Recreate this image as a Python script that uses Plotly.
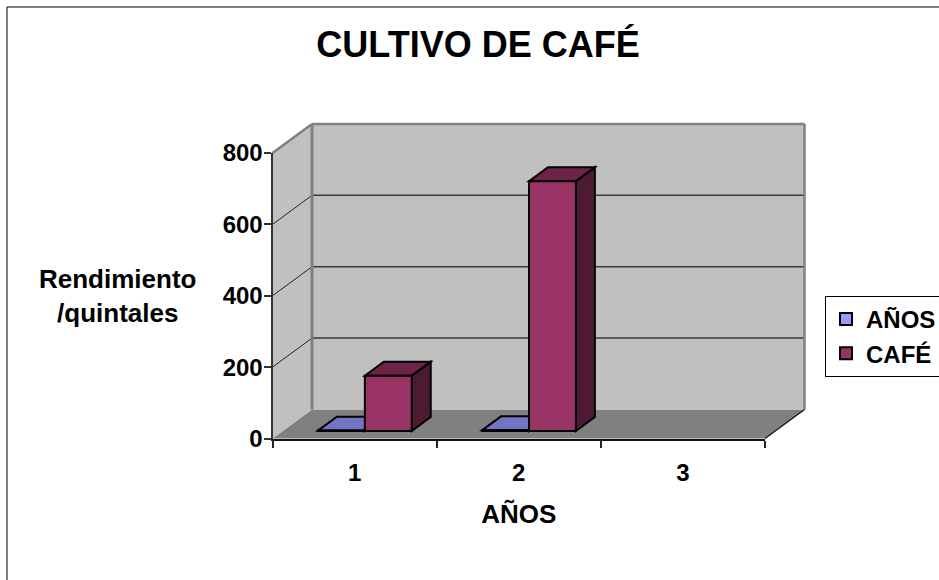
import plotly.graph_objects as go

# ---------------- data ----------------
categories = ["1", "2", "3"]
anos_values = [1, 2, None]
cafe_values = [155, 700, None]
series_names = ["AÑOS", "CAFÉ"]
y_ticks = [0, 200, 400, 600, 800]
title_text = "CULTIVO DE CAFÉ"
x_title = "AÑOS"
y_title = "Rendimiento<br>/quintales"

# ---------------- styling / layout constants ----------------
FONT = "Arial, 'Liberation Sans', sans-serif"
W, H = 939, 580
FX0, FX1 = 272.5, 765.0       # pixel x of the front plane (left/right)
FY0, FY1 = 438.5, 153.0       # pixel y of value 0 and of the top value
YMAX = y_ticks[-1]
NCAT = len(categories)
cat_px = (FX1 - FX0) / NCAT
val_px = (FY0 - FY1) / YMAX
DX = 39.5 / cat_px            # depth shift in category units
DY = 29.0 / val_px            # depth shift in value units
x_lo = 0.5 - FX0 / cat_px
x_hi = 0.5 + (W - FX0) / cat_px
y_lo = -(H - FY0) / val_px
y_hi = FY0 / val_px

BAR_W = 1.0 / (2 + 1.5)       # gap width 150 %
F0, F1 = 0.26, 0.74           # depth of bar front / back faces
colors = [
    dict(front="#9999FF", top="#7474C4", side="#4D4D80"),
    dict(front="#993366", top="#6E2449", side="#4C1A33"),
]


def proj(x, y, f):
    return (x + f * DX, y + f * DY)


def poly(points, fill, line_color="rgba(0,0,0,0)", line_width=0):
    path = "M " + " L ".join(f"{px:.5f},{py:.5f}" for px, py in points) + " Z"
    return dict(type="path", xref="x", yref="y", path=path, fillcolor=fill,
                line=dict(color=line_color, width=line_width), layer="below")


def seg(p, q, color, width):
    return dict(type="line", xref="x", yref="y", x0=p[0], y0=p[1], x1=q[0], y1=q[1],
                line=dict(color=color, width=width), layer="below")


shapes = []
xa, xb = 0.5, NCAT + 0.5
# floor
shapes.append(poly([proj(xa, 0, 0), proj(xb, 0, 0), proj(xb, 0, 1), proj(xa, 0, 1)], "#808080"))
# left side wall
shapes.append(poly([proj(xa, 0, 0), proj(xa, YMAX, 0), proj(xa, YMAX, 1), proj(xa, 0, 1)], "#C0C0C0"))
# back wall
shapes.append(poly([proj(xa, 0, 1), proj(xb, 0, 1), proj(xb, YMAX, 1), proj(xa, YMAX, 1)], "#C0C0C0"))
# gridlines
for v in y_ticks[1:-1]:
    shapes.append(seg(proj(xa, v, 0), proj(xa, v, 1), "#222222", 1))
    shapes.append(seg(proj(xa, v, 1), proj(xb, v, 1), "#3A3A3A", 1.5))
# wall edges
shapes.append(seg(proj(xa, YMAX, 0), proj(xa, YMAX, 1), "#808080", 2.5))
shapes.append(seg(proj(xa, 0, 1), proj(xa, YMAX, 1), "#808080", 3))
shapes.append(seg(proj(xa, YMAX, 1), proj(xb, YMAX, 1), "#808080", 2.5))
shapes.append(seg(proj(xb, YMAX, 1), proj(xb, 0, 1), "#808080", 2.5))
# floor right edge
shapes.append(seg(proj(xb, 0, 0), proj(xb, 0, 1), "#111111", 1.3))

fig = go.Figure()

for s, (name, vals) in enumerate(zip(series_names, [anos_values, cafe_values])):
    bx, by, bb = [], [], []
    for i, v in enumerate(vals):
        if v is None:
            continue
        c = i + 1
        xl = c - BAR_W + s * BAR_W
        xr = xl + BAR_W
        shapes.append(poly([proj(xr, 0, F0), proj(xr, 0, F1), proj(xr, v, F1), proj(xr, v, F0)],
                           colors[s]["side"], "#000000", 2))
        shapes.append(poly([proj(xl, v, F0), proj(xr, v, F0), proj(xr, v, F1), proj(xl, v, F1)],
                           colors[s]["top"], "#000000", 2))
        bx.append((xl + xr) / 2 + F0 * DX)
        by.append(v)
        bb.append(F0 * DY)
    fig.add_trace(go.Bar(
        x=bx, y=by, base=bb, width=BAR_W, name=name, legendgroup=name,
        marker=dict(color=colors[s]["front"], line=dict(color="#000000", width=2)),
        hoverinfo="skip", xaxis="x", yaxis="y",
    ))

# invisible trace to define the front category axis
fig.add_trace(go.Scatter(x=categories, y=[0] * NCAT, xaxis="x2", yaxis="y2", mode="markers",
                         marker=dict(opacity=0), showlegend=False, hoverinfo="skip"))

# outer chart border
shapes.append(dict(type="rect", xref="paper", yref="paper", x0=7 / W, x1=1.05, y0=-0.05,
                   y1=1 - 7 / H, line=dict(color="#000000", width=1), fillcolor="rgba(0,0,0,0)",
                   layer="above"))

fig.update_layout(
    width=W, height=H,
    margin=dict(l=0, r=0, t=0, b=0, autoexpand=False),
    paper_bgcolor="#FFFFFF", plot_bgcolor="rgba(0,0,0,0)",
    barmode="overlay",
    font=dict(family=FONT, color="#000000"),
    shapes=shapes,
    title=dict(text=title_text, x=478 / W, xanchor="center", xref="paper",
               y=1 - 44.5 / H, yanchor="middle", yref="container",
               font=dict(size=36, family=FONT, weight="bold", color="#000000")),
    xaxis=dict(domain=[0, 1], range=[x_lo, x_hi], visible=False, fixedrange=True),
    yaxis=dict(domain=[0, 1], range=[y_lo, y_hi], visible=False, fixedrange=True),
    xaxis2=dict(domain=[FX0 / W, FX1 / W], anchor="y2", type="category",
                categoryorder="array", categoryarray=categories, range=[-0.5, NCAT - 0.5],
                tickson="boundaries", ticks="outside", ticklen=7, tickwidth=1.5,
                tickcolor="#222222", showline=True, linecolor="#111111", linewidth=2,
                showgrid=False, zeroline=False, ticklabelstandoff=12,
                tickfont=dict(size=24, family=FONT, weight="bold", color="#000000"),
                title=dict(text=x_title, standoff=20,
                           font=dict(size=26, family=FONT, weight="bold", color="#000000")),
                fixedrange=True),
    yaxis2=dict(domain=[(H - FY0) / H, (H - FY1) / H], anchor="x2", range=[0, YMAX],
                tickmode="array", tickvals=y_ticks, ticks="outside", ticklen=7, tickwidth=1.5,
                tickcolor="#333333", showline=True, linecolor="#333333", linewidth=2,
                showgrid=False, zeroline=False, ticklabelstandoff=-4,
                tickfont=dict(size=24, family=FONT, weight="bold", color="#000000"),
                fixedrange=True),
    legend=dict(x=825 / W, xanchor="left", y=1 - 296 / H, yanchor="top",
                bgcolor="#FFFFFF", bordercolor="#000000", borderwidth=1,
                font=dict(size=24, family=FONT, weight="bold", color="#000000"),
                tracegroupgap=4, traceorder="normal"),
    annotations=[dict(text=y_title, xref="paper", yref="paper", x=117 / W, y=1 - 296 / H,
                      xanchor="center", yanchor="middle", showarrow=False, align="center",
                      font=dict(size=26, family=FONT, weight="bold", color="#000000"))],
    showlegend=True,
)

fig.write_html("out.html", config={"displayModeBar": False},
               post_script="document.body.style.margin='0px';")
